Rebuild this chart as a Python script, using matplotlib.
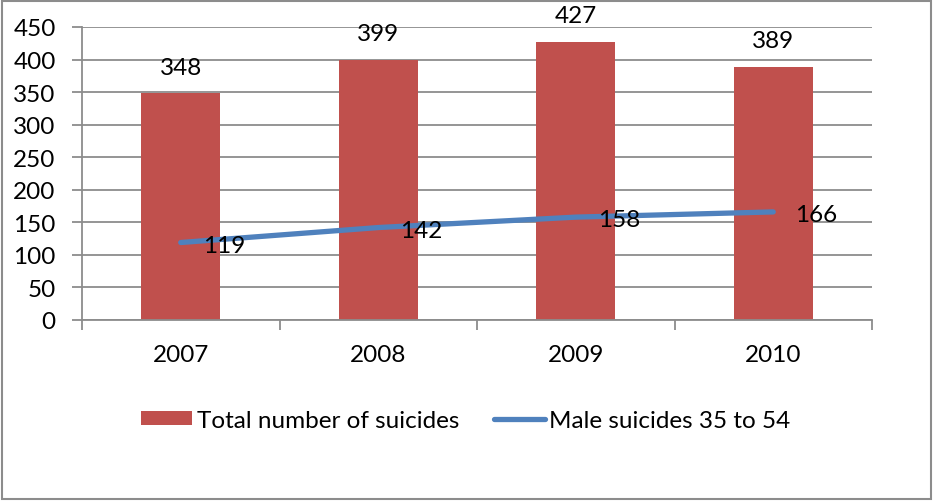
import matplotlib
matplotlib.use("Agg")
import matplotlib.pyplot as plt
from matplotlib.patches import Rectangle
import numpy as np

years = ["2007", "2008", "2009", "2010"]
total_suicides = [348, 399, 427, 389]
male_35_54 = [119, 142, 158, 166]
yticks = [0, 50, 100, 150, 200, 250, 300, 350, 400, 450]

plt.rcParams["font.family"] = ["Lato", "DejaVu Sans"]
FS = 17.5
BAR_C = "#C0504D"
LINE_C = "#4F81BD"
GRID_C = "#8C8C8C"

fig = plt.figure(figsize=(9.33, 5.02), dpi=100)
ax = fig.add_axes([82 / 933, 1 - 321 / 502, 790 / 933, 293 / 502])

x = np.arange(len(years))
bars = ax.bar(x, total_suicides, width=0.4, color=BAR_C, zorder=2,
              label="Total number of suicides")
line, = ax.plot(x, male_35_54, color=LINE_C, lw=3.8, solid_capstyle="round",
                zorder=3, label="Male suicides 35 to 54")

for xi, v in zip(x, total_suicides):
    ax.annotate(str(v), (xi, v), xytext=(0, 19), textcoords="offset points",
                ha="center", va="center", fontsize=FS, zorder=4)
for xi, v in zip(x, male_35_54):
    ax.annotate(str(v), (xi, v), xytext=(16, -2), textcoords="offset points",
                ha="left", va="center", fontsize=FS, zorder=4)

ax.set_xlim(-0.5, len(years) - 0.5)
ax.set_ylim(0, 450)
ax.set_yticks(yticks)
ax.yaxis.grid(True, color=GRID_C, lw=1.3, zorder=0)
ax.set_axisbelow(True)

# category ticks sit on the boundaries between years
ax.set_xticks(np.arange(-0.5, len(years)), minor=False)
ax.set_xticklabels([])
ax.set_xticks(x, minor=True)
ax.set_xticklabels(years, minor=True, fontsize=FS)
ax.tick_params(axis="x", which="major", length=7, width=1.3, color=GRID_C,
               direction="out")
ax.tick_params(axis="x", which="minor", length=0, pad=17)
ax.tick_params(axis="y", length=7, width=1.3, color=GRID_C, labelsize=FS, pad=12)

for s in ["top", "right"]:
    ax.spines[s].set_visible(False)
for s in ["left", "bottom"]:
    ax.spines[s].set_color(GRID_C)
    ax.spines[s].set_linewidth(1.3)

leg = fig.legend(handles=[bars, line], loc="center", bbox_to_anchor=(466 / 933, 1 - 421 / 502),
                 ncol=2, frameon=False, fontsize=FS, handlelength=2.1,
                 handleheight=0.55, handletextpad=0.2, columnspacing=1.4)

fig.patches.append(Rectangle((0.002, 0.004), 0.996, 0.993, transform=fig.transFigure,
                             fill=False, edgecolor="#8C8C8C", lw=1.5))

fig.savefig("out.png", dpi=100)
